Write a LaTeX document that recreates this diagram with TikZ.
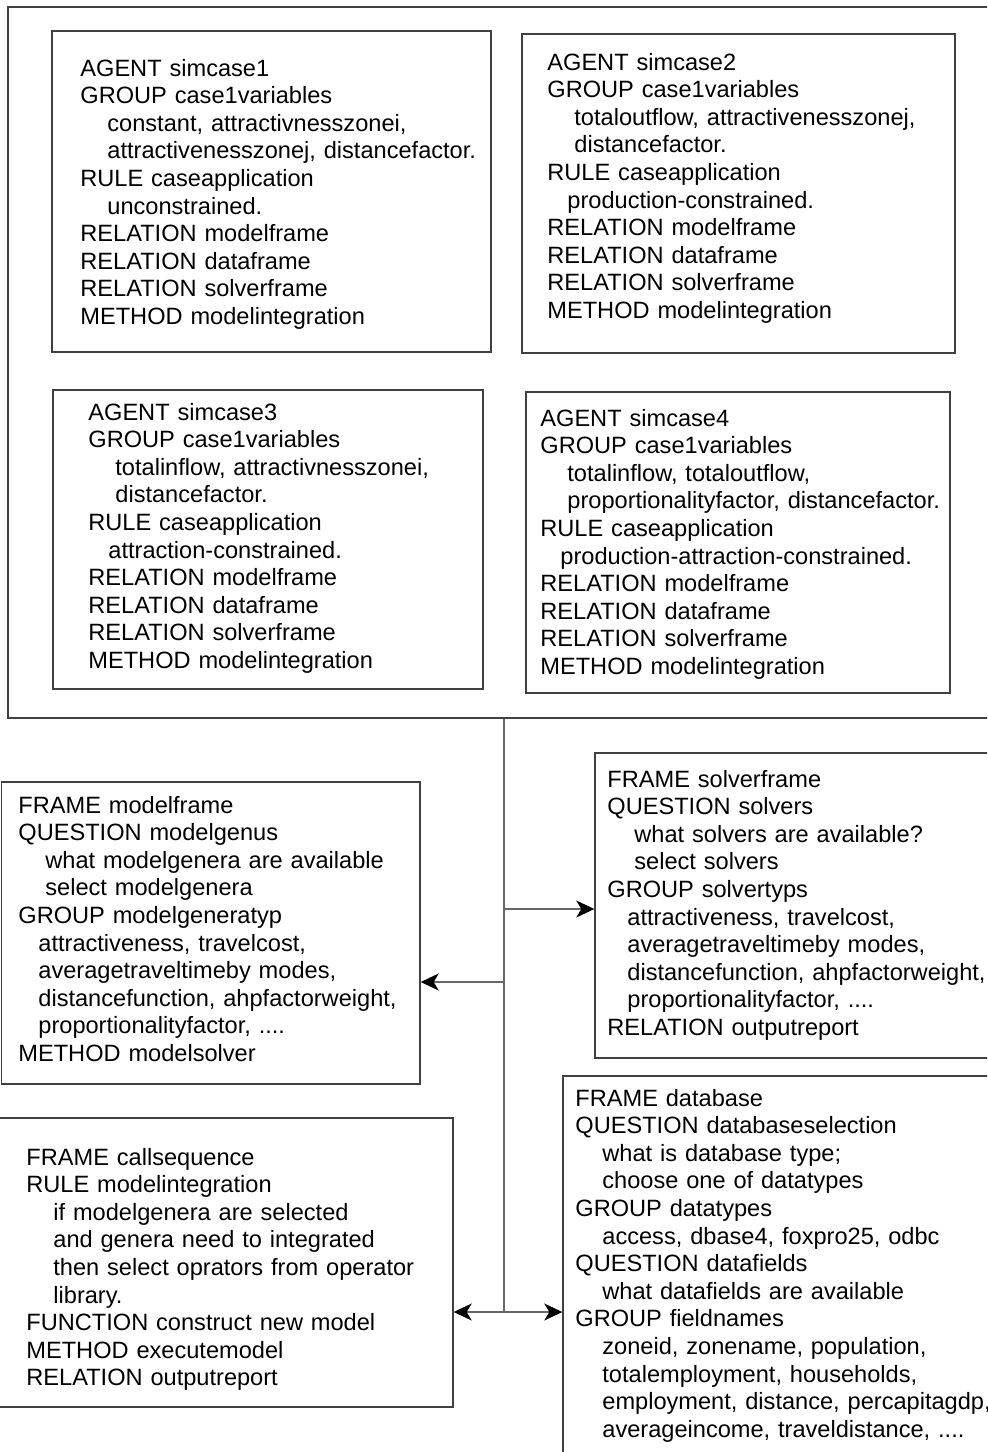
\documentclass[tikz,border=0pt]{standalone}
\usepackage{fontspec}
\setmainfont{Liberation Sans}
\usetikzlibrary{arrows.meta,fit}
\newcommand\indA{\hspace*{13.5pt}}
\newcommand\indB{\hspace*{10pt}}
\begin{document}
\begin{tikzpicture}
	[x=0.5pt,y=-0.5pt,
	 box/.style={draw=black!75,line width=0.7pt,inner sep=0pt},
	 txt/.style={anchor=base west,align=left,text width=240pt,inner sep=0pt,
	   font=\fontsize{11.8}{13.8}\selectfont},
	 tip/.tip={Stealth[length=9pt,width=8.5pt,inset=2.5pt,color=black]},
	 arr/.style={draw=black!60,line width=0.7pt,-tip},
	 arrs/.style={draw=black!60,line width=0.7pt,tip-tip}]
    \clip (0,0) rectangle (987,1452);

    % agents
    \node[box,fit={(8,7) (995,718)}] (agents) {};
    \node[box,fit={(52,31) (491,352)}] (case1) {};
    \node[box,fit={(522,34) (955,353)}] (case2) {};
    \node[box,fit={(53,390) (483,689)}] (case3) {};
    \node[box,fit={(526,392) (950,693)}] (case4) {};

    \node[txt] (case1t) at (80,76) {AGENT simcase1\\GROUP case1variables\\
      \indA constant, attractivnesszonei,\\\indA attractivenesszonej, distancefactor.\\
      RULE caseapplication\\\indA unconstrained.\\RELATION modelframe\\
      RELATION dataframe\\RELATION solverframe\\METHOD modelintegration};
    \node[txt] (case2t) at (547,70) {AGENT simcase2\\GROUP case1variables\\
      \indA totaloutflow, attractivenesszonej,\\\indA distancefactor.\\
      RULE caseapplication\\\indB production-constrained.\\RELATION modelframe\\
      RELATION dataframe\\RELATION solverframe\\METHOD modelintegration};
    \node[txt] (case3t) at (88,420) {AGENT simcase3\\GROUP case1variables\\
      \indA totalinflow, attractivnesszonei,\\\indA distancefactor.\\
      RULE caseapplication\\\indB attraction-constrained.\\RELATION modelframe\\
      RELATION dataframe\\RELATION solverframe\\METHOD modelintegration};
    \node[txt] (case4t) at (540,426) {AGENT simcase4\\GROUP case1variables\\
      \indA totalinflow, totaloutflow,\\\indA proportionalityfactor, distancefactor.\\
      RULE caseapplication\\\indB production-attraction-constrained.\\RELATION modelframe\\
      RELATION dataframe\\RELATION solverframe\\METHOD modelintegration};

    % frames
    \node[box,fit={(1.5,782) (420,1084)}] (model) {};
    \node[box,fit={(595,753) (995,1058)}] (solver) {};
    \node[box,fit={(563,1076) (995,1470)}] (data) {};
    \node[box,fit={(-5,1118) (453,1407)}] (call) {};

    \node[txt] (modelt) at (18,813) {FRAME modelframe\\QUESTION modelgenus\\
      \indA what modelgenera are available\\\indA select modelgenera\\
      GROUP modelgeneratyp\\\indB attractiveness, travelcost,\\
      \indB averagetraveltimeby modes,\\\indB distancefunction, ahpfactorweight,\\
      \indB proportionalityfactor, ....\\METHOD modelsolver};
    \node[txt] (solvert) at (607,787) {FRAME solverframe\\QUESTION solvers\\
      \indA what solvers are available?\\\indA select solvers\\
      GROUP solvertyps\\\indB attractiveness, travelcost,\\
      \indB averagetraveltimeby modes,\\\indB distancefunction, ahpfactorweight,\\
      \indB proportionalityfactor, ....\\RELATION outputreport};
    \node[txt] (datat) at (575,1106) {FRAME database\\QUESTION databaseselection\\
      \indA what is database type;\\\indA choose one of datatypes\\
      GROUP datatypes\\\indA access, dbase4, foxpro25, odbc\\
      QUESTION datafields\\\indA what datafields are available\\
      GROUP fieldnames\\\indA zoneid, zonename, population,\\
      \indA totalemployment, households,\\\indA employment, distance, percapitagdp,\\
      \indA averageincome, traveldistance, ....};
    \node[txt] (callt) at (26,1165) {FRAME callsequence\\RULE modelintegration\\
      \indA if modelgenera are selected\\\indA and genera need to integrated\\
      \indA then select oprators from operator\\\indA library.\\
      FUNCTION construct new model\\METHOD executemodel\\RELATION outputreport};

    % connectors
    \coordinate (jsolv) at (504,909);
    \coordinate (jmod) at (504,982);
    \coordinate (jlow) at (504,1312);
    \draw[draw=black!60,line width=0.7pt] (agents.south -| jlow) -- (jlow);
    \draw[arr] (jsolv) -- (solver.west |- jsolv);
    \draw[arr] (jmod) -- (model.east |- jmod);
    \draw[arrs] (call.east |- jlow) -- (data.west |- jlow);

\end{tikzpicture}
\end{document}
